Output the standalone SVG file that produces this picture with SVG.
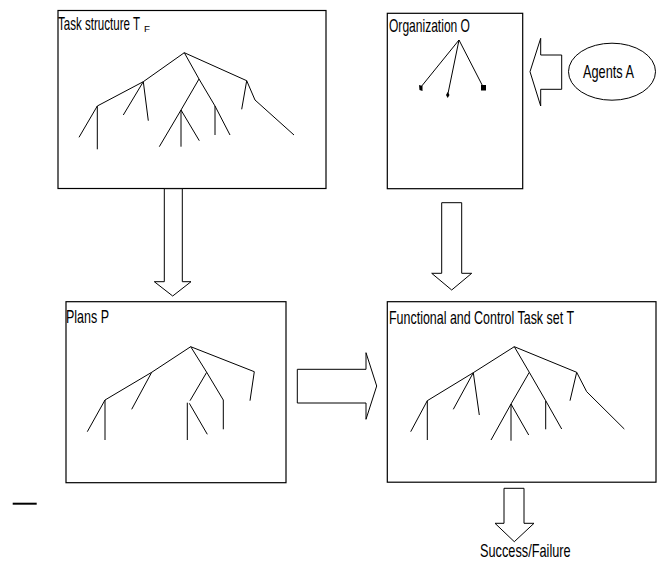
<svg xmlns="http://www.w3.org/2000/svg" width="657" height="574" viewBox="0 0 657 574">
<style>
.box{fill:#fff;stroke:#000;stroke-width:1.2}
.tree{fill:none;stroke:#000;stroke-width:1}
.lbl{font-family:"Liberation Sans",Arial,sans-serif;font-size:18.5px;fill:#000}
.blk{fill:#fff;stroke:#000;stroke-width:1}
</style>
<rect width="657" height="574" fill="#fff"/>

<g id="task-structure">
<rect class="box" x="58" y="10.5" width="268" height="178"/>
<text class="lbl" x="58" y="30" textLength="82" lengthAdjust="spacingAndGlyphs">Task structure T</text>
<text class="lbl" x="144" y="32" style="font-size:9px" textLength="6" lengthAdjust="spacingAndGlyphs">F</text>
<path class="tree" d="M184.3,52.7 L143.3,81.7 L97.3,106 M97.3,106 L79,137.3 M97.3,106 L97.3,149.3 M143.3,81.7 L123.3,115 M143.3,81.7 L148.3,120.7 M184.3,52.7 L199,79 L215,106 L230,135 M215,106 L215,135 M199,79 L181,110 L159.3,146.7 M181,110 L181,146.7 M181,110 L199.3,140.7 M184.3,52.7 L246.7,80.7 L241.7,109.3 M246.7,80.7 L255,100 L294,135"/>
</g>

<g id="organization">
<rect class="box" x="387.3" y="13.3" width="135.4" height="175.4"/>
<text class="lbl" x="389" y="32" textLength="81" lengthAdjust="spacingAndGlyphs">Organization O</text>
<path class="tree" d="M459,40 L420.7,87.3 M459,40 L447.7,95 M459,40 L483.3,87.3"/>
<path d="M419,85 L422.5,86 L422.5,91 L419.5,90 Z" fill="#000"/>
<path d="M447.7,92 L449.5,95 L447.7,98 L446,95 Z" fill="#000"/>
<rect x="481" y="85" width="5" height="5.5" fill="#000"/>
</g>

<g id="agents">
<ellipse cx="612" cy="71.7" rx="43.5" ry="28.5" fill="#fff" stroke="#000" stroke-width="1"/>
<text class="lbl" x="583" y="78.3" textLength="51" lengthAdjust="spacingAndGlyphs">Agents A</text>
</g>

<g id="plans">
<rect class="box" x="66" y="301.7" width="220" height="181"/>
<text class="lbl" x="66" y="323.3" textLength="43" lengthAdjust="spacingAndGlyphs">Plans P</text>
<path class="tree" d="M190.7,346.7 L151.7,372.3 L105,400 M105,400 L87.3,431.7 M105,400 L105,440 M151.7,372.3 L131.7,409.3 M190.7,346.7 L206.7,372.3 L223.3,400 L223.3,429.3 M206.7,372.3 L190,400.7 M187.3,402.7 L187.3,440 M189.3,403.3 L207.3,434.3 M190.7,346.7 L254.3,371.7 L250,400.7"/>
</g>

<g id="functional-control">
<rect class="box" x="387.3" y="301.7" width="268.7" height="180.5"/>
<text class="lbl" x="389" y="324" textLength="185" lengthAdjust="spacingAndGlyphs">Functional and Control Task set T</text>
<path class="tree" d="M514.3,346.7 L473.3,372.7 L427.3,400.7 M427.3,400.7 L410.7,431.7 M427.3,400.7 L427.3,440 M473.3,372.7 L453.3,409.3 M473.3,372.7 L479.3,415 M514.3,346.7 L529.3,372.3 L545.7,400.7 L561.7,429 M545.7,400.7 L545.7,429.3 M529.3,372.3 L511,404 L491,440 M511,404 L511,440.7 M511,404 L528.7,435 M514.3,346.7 L576.7,372.3 L570,400.7 M576.7,372.3 L586.7,391.7 L624.3,429"/>
</g>

<g id="success-failure">
<text class="lbl" x="480" y="556.7" textLength="90.7" lengthAdjust="spacingAndGlyphs">Success/Failure</text>
</g>

<g id="connectors">
<polygon class="blk" points="164.3,188.7 182.3,188.7 182.3,281.7 191,281.7 172.7,296 154.3,281.7 164.3,281.7"/>
<polygon class="blk" points="441.7,202.7 461.7,202.7 461.7,273.3 471.7,273.3 451.7,290 431.7,273.3 441.7,273.3"/>
<polygon class="blk" points="297.3,369.3 366,369.3 366,352.7 376.7,386 366,419.3 366,403 297.3,403"/>
<polygon class="blk" points="561.7,55 540.7,55 540.7,38.3 530,71.7 540.7,106 540.7,89.3 561.7,89.3"/>
<polygon class="blk" points="504,488.3 524,488.3 524,523.3 534,523.3 514.3,541.7 495,523.3 504,523.3"/>
</g>

<line x1="12.7" y1="503.7" x2="36.7" y2="503.7" stroke="#000" stroke-width="2"/>
</svg>
